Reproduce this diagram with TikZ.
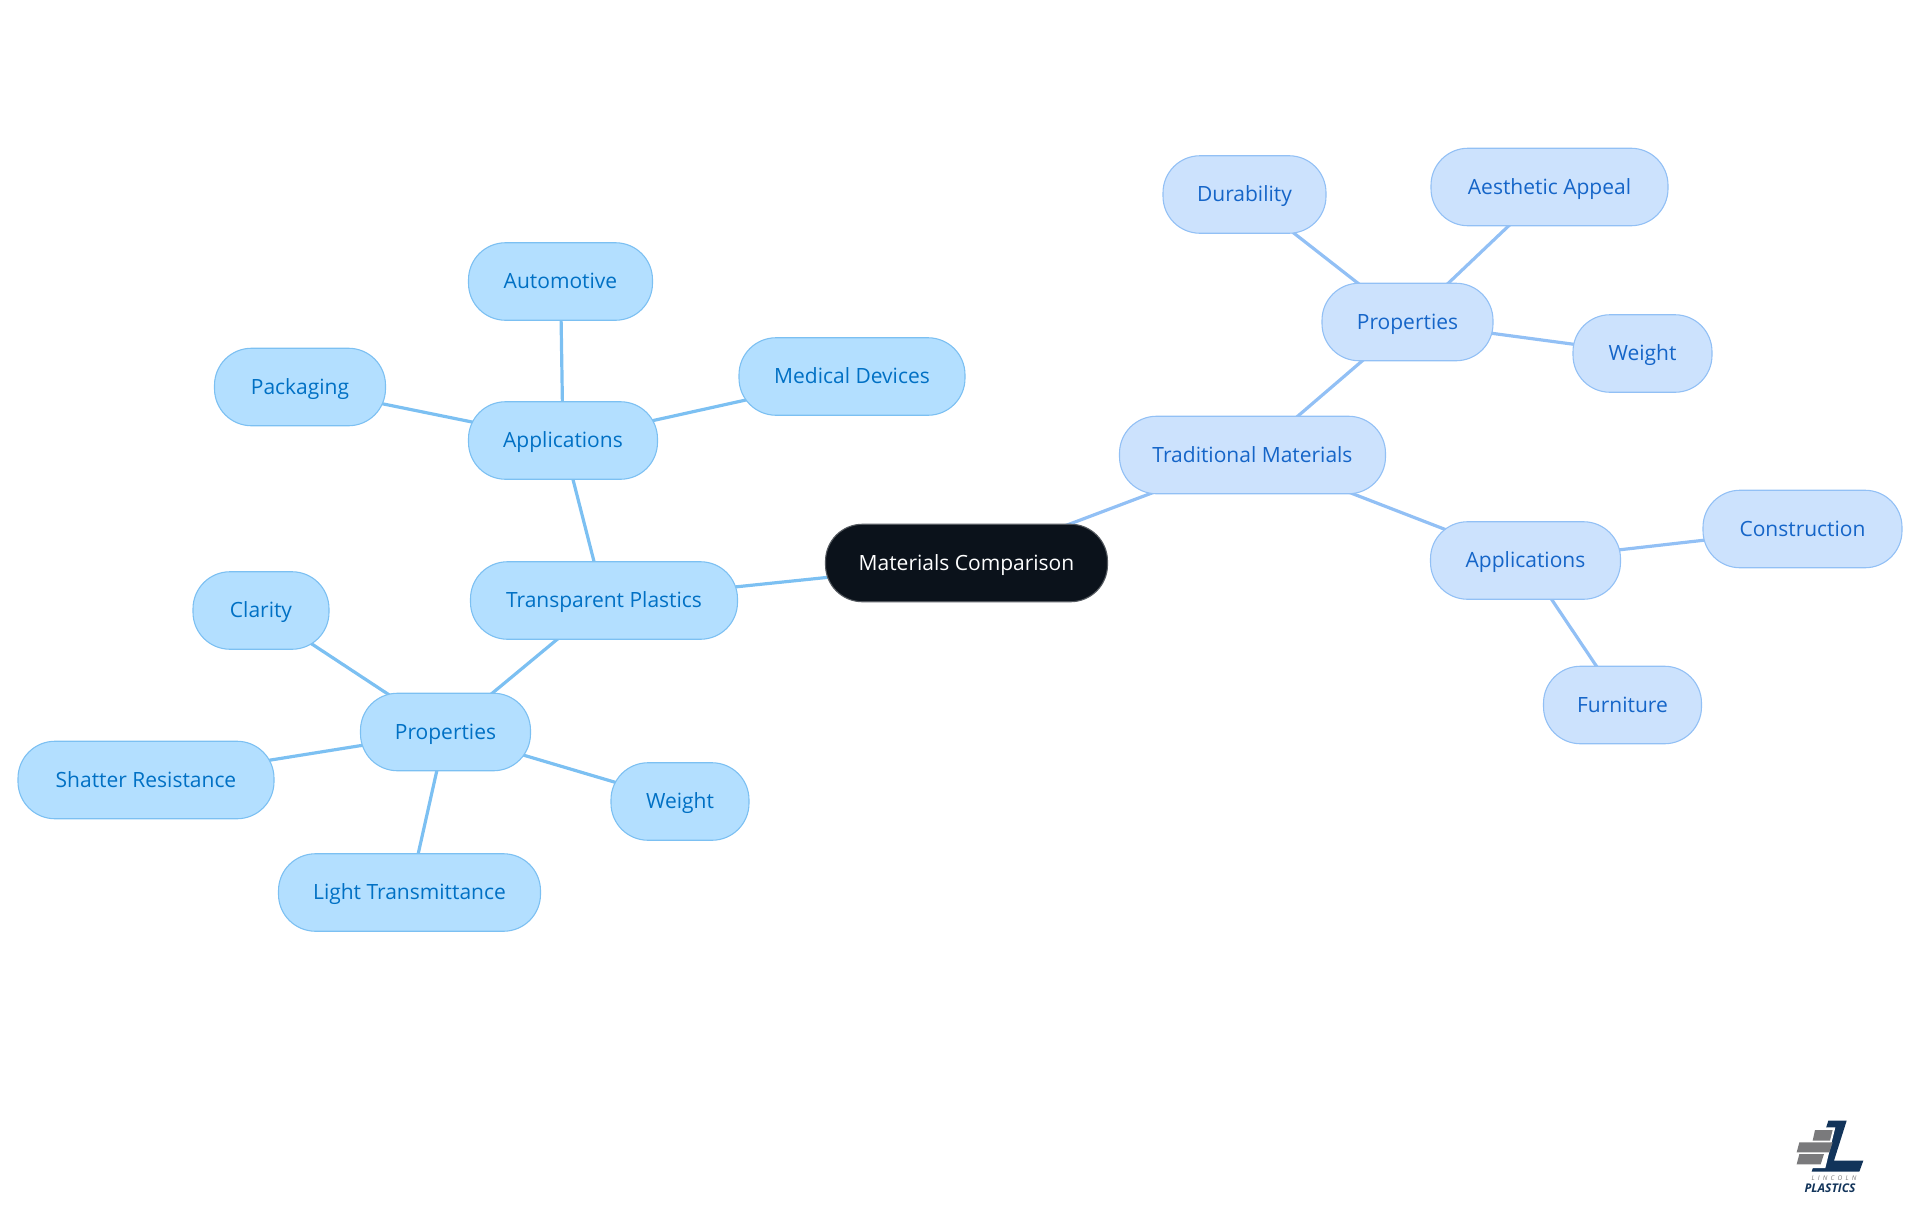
\documentclass[tikz,border=0pt]{standalone}
\usepackage{fontspec}
\setmainfont{Open Sans}
\usetikzlibrary{backgrounds}
\definecolor{lfill}{HTML}{B3DFFF}
\definecolor{lline}{HTML}{7CC0F2}
\definecolor{ltext}{HTML}{0070C4}
\definecolor{rfill}{HTML}{CCE2FD}
\definecolor{rline}{HTML}{92C0F5}
\definecolor{rtext}{HTML}{1565C8}
\definecolor{rootfill}{HTML}{0B121B}
\definecolor{logoblue}{HTML}{12345A}
\definecolor{logogray}{HTML}{7A7A7C}
\tikzset{
  pill/.style={rectangle,rounded corners=37pt,inner sep=0pt,line width=1.1pt,minimum height=77.5pt,
    text height=19pt,text depth=5pt,font=\fontsize{21}{25}\selectfont},
  lnode/.style={pill,draw=lline,fill=lfill,text=ltext},
  rnode/.style={pill,draw=rline,fill=rfill,text=rtext},
  rootnode/.style={pill,draw=rootfill!70!white,fill=rootfill,text=white},
  ledge/.style={draw=lline,line width=3.2pt},
  redge/.style={draw=rline,line width=3.2pt},
}
\begin{document}
\begin{tikzpicture}[x=1pt,y=-1pt]
\useasboundingbox (0,0) rectangle (1920,1215);
\node[rootnode,minimum width=282pt] (root) at (966.5,563) {Materials Comparison};
\node[lnode,minimum width=267pt] (tp) at (604,600.5) {Transparent Plastics};
\node[lnode,minimum width=189pt] (lapp) at (563,440.5) {Applications};
\node[lnode,minimum width=184pt] (auto) at (560.5,281.5) {Automotive};
\node[lnode,minimum width=171pt] (pack) at (300,387) {Packaging};
\node[lnode,minimum width=226pt] (med) at (852,376.5) {Medical Devices};
\node[lnode,minimum width=170pt] (lprop) at (445.5,732) {Properties};
\node[lnode,minimum width=136pt] (clar) at (261,610.5) {Clarity};
\node[lnode,minimum width=256pt] (shat) at (146,780) {Shatter Resistance};
\node[lnode,minimum width=262pt] (light) at (409.5,892.5) {Light Transmittance};
\node[lnode,minimum width=138pt] (lw) at (680,801.5) {Weight};
\node[rnode,minimum width=266pt] (trad) at (1252.5,455) {Traditional Materials};
\node[rnode,minimum width=171pt] (rprop) at (1407.5,322) {Properties};
\node[rnode,minimum width=163pt] (dur) at (1244.5,194.5) {Durability};
\node[rnode,minimum width=237pt] (aes) at (1549.5,187) {Aesthetic Appeal};
\node[rnode,minimum width=139pt] (rw) at (1642.5,353.5) {Weight};
\node[rnode,minimum width=190pt] (rapp) at (1525.5,560.5) {Applications};
\node[rnode,minimum width=199pt] (con) at (1802.5,529) {Construction};
\node[rnode,minimum width=158pt] (fur) at (1622.5,705) {Furniture};
\begin{scope}[on background layer]
\draw[ledge] (root.center)--(tp.center) (tp.center)--(lapp.center) (tp.center)--(lprop.center)
  (lapp.center)--(auto.center) (lapp.center)--(pack.center) (lapp.center)--(med.center)
  (lprop.center)--(clar.center) (lprop.center)--(shat.center) (lprop.center)--(light.center) (lprop.center)--(lw.center);
\draw[redge] (root.center)--(trad.center) (trad.center)--(rprop.center) (trad.center)--(rapp.center)
  (rprop.center)--(dur.center) (rprop.center)--(aes.center) (rprop.center)--(rw.center)
  (rapp.center)--(con.center) (rapp.center)--(fur.center);
\end{scope}
% logo
\begin{scope}[shift={(1760,1100)},x=0.3333pt,y=-0.3333pt]
\fill[logoblue] (205,62)--(260,62)--(222,182)--(310,182)--(298,215)--(155,215)--cycle;
\fill[white] (150,82)--(226,82)--(196,204)--(100,204)--(100,120)--(150,120)--cycle;
\fill[logogray] (165,90)--(218,90)--(210,122)--(158,122)--cycle;
\fill[logogray] (118,127)--(218,127)--(208,157)--(110,157)--cycle;
\fill[logogray] (118,162)--(192,162)--(182,193)--(110,193)--cycle;
\node[inner sep=0pt,text=logogray,font=\fontsize{6.5}{7}\selectfont\itshape] (lin) at (222,235) {L\hskip3.2pt I\hskip3.2pt N\hskip3.2pt C\hskip3.2pt O\hskip3.2pt L\hskip3.2pt N};
\node[inner sep=0pt,text=logoblue,font=\fontsize{12}{13}\selectfont\bfseries\itshape] (pla) at (210,265) {PLASTICS};
\end{scope}
\end{tikzpicture}
\end{document}
